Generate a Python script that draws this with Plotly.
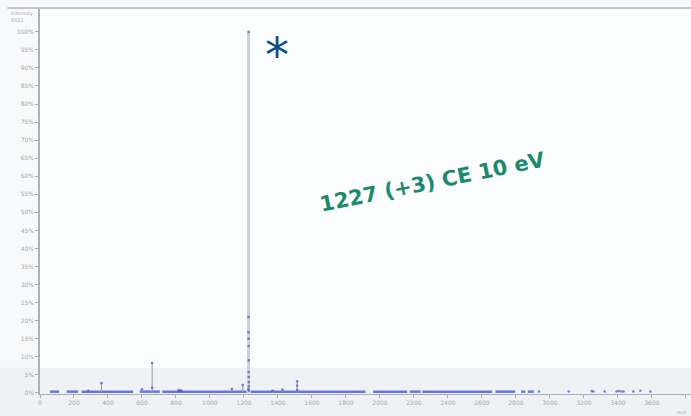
import plotly.graph_objects as go

# Centroided peaks: m/z and relative intensity (%)
peak_mz = [283, 362, 600, 660, 816, 830, 1129, 1193, 1227, 1368, 1427, 1513]
peak_int = [0.6, 2.7, 1.0, 8.3, 0.8, 0.7, 1.1, 2.2, 100.0, 0.6, 0.9, 3.2]

# Isotope / charge-state cluster around the 1227 precursor
cluster_mz = [1226.3, 1226.7, 1227.0, 1227.3, 1227.7, 1228.0, 1228.3, 1228.7, 1229.0, 1226.0, 1229.3]
cluster_int = [21.0, 16.8, 15.0, 13.0, 9.0, 5.8, 4.4, 3.0, 1.8, 1.0, 0.6]

# Secondary dots on smaller peaks
minor_mz = [660, 1513, 1513, 816, 830]
minor_int = [1.4, 2.0, 0.8, 0.4, 0.4]

# Low-level noise regions (start, end m/z) and level
noise_start = [59, 157, 245, 587, 720, 1240, 1960, 2175, 2250, 2680, 2830, 2870]
noise_end = [112, 225, 548, 705, 1215, 1915, 2160, 2240, 2660, 2795, 2855, 2905]
noise_level = 0.35

# Isolated low peaks at high m/z
sparse_mz = [2936, 3111, 3246, 3256, 3322, 3392, 3405, 3420, 3433, 3491, 3532, 3591]
sparse_int = [0.4, 0.4, 0.5, 0.4, 0.4, 0.4, 0.5, 0.4, 0.4, 0.4, 0.6, 0.4]

fig = go.Figure()

# noise band
nx, ny = [], []
for s, e in zip(noise_start, noise_end):
    nx += [s, e, None]
    ny += [noise_level, noise_level, None]
fig.add_trace(go.Scatter(x=nx, y=ny, mode="lines",
                         line=dict(color="rgba(70,85,225,0.8)", width=2.5),
                         hoverinfo="skip", showlegend=False))

# peak sticks
for mz, h in zip(peak_mz, peak_int):
    main = h >= 50
    fig.add_trace(go.Scatter(x=[mz, mz], y=[0, h], mode="lines",
                             line=dict(color="#cdd0d4" if main else "#9a9a9a",
                                       width=3 if main else 1),
                             hoverinfo="skip", showlegend=False))

# peak apex markers
fig.add_trace(go.Scatter(x=peak_mz + cluster_mz + minor_mz + sparse_mz,
                         y=peak_int + cluster_int + minor_int + sparse_int,
                         mode="markers",
                         marker=dict(color="#4a57d8", size=2.6, opacity=0.75),
                         showlegend=False))

fig.add_annotation(x=0.603, y=0.548, xref="paper", yref="paper",
                   text="<b>1227 (+3) CE 10 eV</b>", showarrow=False,
                   textangle=-11.5,
                   font=dict(family="DejaVu Sans", size=21, color="#1c8a6c"))
fig.add_annotation(x=1227, y=93, xref="x", yref="y", xshift=28, yshift=2,
                   text="*", showarrow=False,
                   font=dict(family="DejaVu Sans", size=48, color="#0b4f8c"))

fig.add_annotation(x=-0.048, y=1.0, xref="paper", yref="paper",
                   xanchor="left", yanchor="top", align="left",
                   text="Intensity<br>6021", showarrow=False,
                   font=dict(family="DejaVu Sans", size=5, color="#aaaaaa"))
fig.add_annotation(x=0.997, y=-0.033, xref="paper", yref="paper",
                   xanchor="right", yanchor="top",
                   text="m/z", showarrow=False,
                   font=dict(family="DejaVu Sans", size=5, color="#aaaaaa"))

# background band at bottom and top rule
fig.add_shape(type="rect", xref="paper", yref="paper", x0=-0.07, x1=1.0,
              y0=-0.07, y1=0.068, fillcolor="#eef2f4", line=dict(width=0),
              layer="below")
fig.add_shape(type="line", xref="paper", yref="paper", x0=-0.05, x1=1.0,
              y0=1.0, y1=1.0, line=dict(color="#c4c4c4", width=2))

fig.update_layout(
    width=691, height=416,
    margin=dict(l=40, r=0, t=8, b=22),
    paper_bgcolor="#f7f9fa", plot_bgcolor="rgba(252,253,254,1)",
    font=dict(family="DejaVu Sans", size=6, color="#a8a8a8"),
    xaxis=dict(range=[0, 3830], tickmode="linear", tick0=0, dtick=200,
               showgrid=False, zeroline=False, showline=True,
               linecolor="#b0b0b0", linewidth=1, ticks="outside",
               ticklen=3, tickcolor="#b0b0b0", tickfont=dict(size=6)),
    yaxis=dict(range=[-0.3, 106.6], tickmode="array",
               tickvals=list(range(0, 101, 5)),
               ticktext=[f"{v}%" for v in range(0, 101, 5)],
               showgrid=False, zeroline=False, showline=True,
               linecolor="#b0b0b0", linewidth=1.5, ticks="outside",
               ticklen=3, tickcolor="#b0b0b0", tickfont=dict(size=6)),
)

fig.write_html("out.html")
